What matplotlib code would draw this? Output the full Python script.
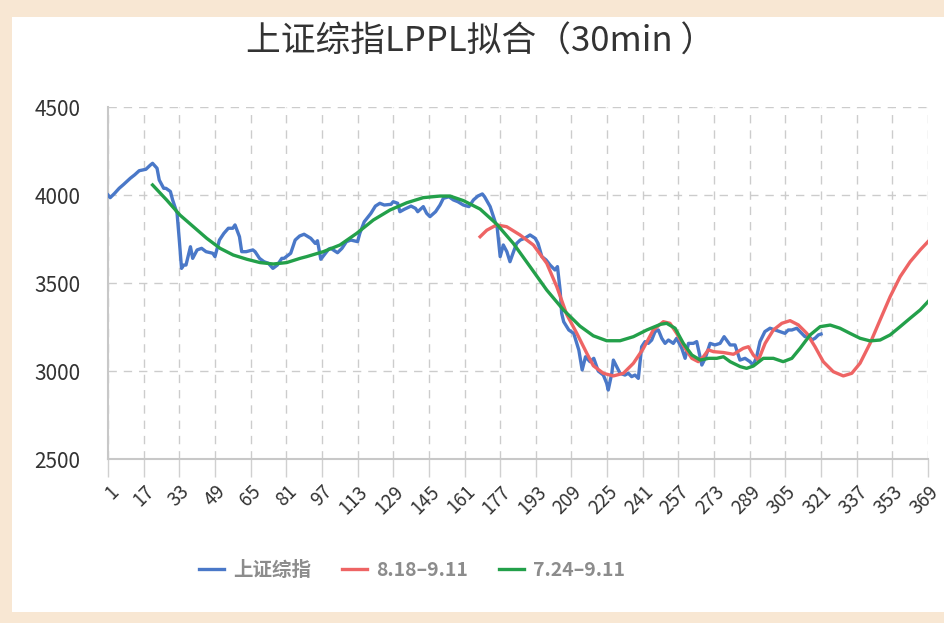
import matplotlib
matplotlib.use('Agg')
import matplotlib.pyplot as plt
from matplotlib.patches import Rectangle

plt.rcParams['font.family'] = ['Noto Sans CJK SC', 'DejaVu Sans']

# 上证综指 (читано с картинки, индекс бара -> значение)
sh_x = [1, 2, 4, 6, 8, 11, 13, 15, 18, 20, 21, 23, 24, 26, 27, 29, 30, 32, 33, 34,
        35, 36, 38, 39, 41, 43, 45, 48, 49, 51, 53, 55, 57, 58, 60, 61, 63, 66, 67, 69,
        71, 73, 75, 77, 79, 80, 83, 85, 87, 89, 92, 94, 95, 96.5, 98, 100, 101, 104, 106,
        108, 110, 113, 114, 116, 119, 121, 123, 125, 128, 129, 131, 132, 134, 137, 139,
        140, 142.5, 144, 145.5, 148, 150, 151.5, 154, 156, 158, 160.5, 163, 165, 167,
        169, 170, 172.5, 174, 175.7, 177, 178.4, 180, 181.4, 183, 184.4, 186, 188, 190.4,
        192.7, 194, 195.7, 197.6, 199.4, 201.6, 202.7, 203.9, 204.6, 205.5, 207.8, 210,
        212.3, 213.8, 215.3, 217.3, 219, 221, 223.3, 224.8, 225.5, 227.1, 227.8, 229.3,
        230.8, 233, 234.5, 236, 237.5, 239, 240.5, 242, 243.5, 245, 246.5, 248, 249.5,
        251, 252.5, 254.7, 256.2, 258.5, 260, 261.5, 263.7, 265.2, 267.5, 269, 271.2,
        273.4, 275.7, 277.5, 280.2, 282.4, 284.6, 286.9, 289.1, 290.6, 292.1, 293.6,
        295.8, 298.1, 300.4, 302.6, 304.8, 306.3, 307.9, 310.1, 312.3, 313.8, 315.3,
        316.8, 318.3, 319.8, 321]
sh_y = [4000, 3985, 4010, 4038, 4060, 4095, 4115, 4138, 4146, 4170, 4180, 4152, 4085, 4038,
        4038, 4020, 3972, 3896, 3744, 3583, 3602, 3602, 3706, 3640, 3688, 3697, 3678, 3669,
        3650, 3744, 3782, 3811, 3811, 3830, 3763, 3678, 3678, 3688, 3678, 3640, 3621, 3612,
        3583, 3602, 3640, 3640, 3669, 3744, 3767, 3777, 3754, 3725, 3740, 3635, 3659, 3692,
        3697, 3672, 3697, 3735, 3744, 3735, 3782, 3848, 3896, 3937, 3953, 3943, 3947, 3962,
        3953, 3905, 3919, 3937, 3924, 3905, 3934, 3896, 3877, 3905, 3943, 3981, 3990, 3972,
        3962, 3943, 3934, 3972, 3994, 4006, 3990, 3934, 3877, 3811, 3650, 3716, 3678, 3621,
        3678, 3725, 3744, 3754, 3773, 3754, 3725, 3650, 3631, 3602, 3574, 3593, 3460, 3328,
        3280, 3233, 3214, 3119, 3006, 3081, 3053, 3072, 3000, 2977, 2930, 2892, 2987, 3062,
        3025, 2987, 2977, 2987, 2968, 2977, 2958, 3138, 3167, 3157, 3176, 3224, 3233, 3186,
        3157, 3176, 3157, 3186, 3129, 3072, 3157, 3157, 3167, 3034, 3072, 3157, 3148, 3157,
        3195, 3148, 3148, 3062, 3072, 3053, 3034, 3081, 3167, 3224, 3243, 3233, 3224, 3214,
        3233, 3233, 3243, 3214, 3195, 3205, 3176, 3186, 3205, 3210]

# 8.18-9.11
fit1_x = [168, 171, 175.4, 179.9, 185.9, 191.9, 197.9, 202.4, 206.9, 211.4, 215.9, 218.8,
          223.3, 227.8, 232.3, 236.8, 241.3, 245.7, 250.2, 253.2, 256.2, 260, 263, 265.9,
          268.2, 270.4, 272.7, 277.2, 281.7, 286.1, 288.4, 290.6, 292.9, 295.9, 299.6,
          303.4, 307.1, 310.8, 314.6, 318.3, 322, 326.5, 331, 334.8, 338.5, 343, 347.5,
          352, 356.5, 361, 365.5, 369]
fit1_y = [3763, 3800, 3830, 3820, 3773, 3716, 3612, 3479, 3320, 3214, 3100, 3030, 2987,
          2972, 2987, 3044, 3129, 3233, 3280, 3271, 3214, 3129, 3072, 3053, 3081, 3120,
          3110, 3105, 3095, 3129, 3138, 3091, 3062, 3157, 3233, 3271, 3286, 3262, 3214,
          3138, 3053, 2996, 2972, 2987, 3044, 3157, 3290, 3422, 3536, 3621, 3688, 3735]

# 7.24-9.11
fit2_x = [21, 27.3, 33.3, 39.3, 45.3, 51.3, 57.2, 63.3, 69.2, 75.2, 81.2, 87.2, 90.2, 97.6,
          105.1, 112.6, 120.1, 127.6, 135.1, 142.5, 150, 154.5, 160.5, 168, 175.4, 182.9,
          190.4, 197.9, 205.4, 212.8, 218.8, 224.8, 230.8, 236.8, 242.8, 248.9, 251.7,
          255.5, 259.2, 263, 266.8, 270.5, 274.2, 277.2, 280.2, 284.7, 287.6, 290.6, 295.1,
          299.6, 304, 307.9, 311.6, 316.1, 320.6, 325.1, 329.5, 334, 338.5, 343, 347.5,
          352, 356.5, 361, 365.5, 369]
fit2_y = [4057, 3972, 3886, 3820, 3754, 3697, 3659, 3635, 3616, 3608, 3616, 3640, 3650, 3678,
          3716, 3782, 3858, 3915, 3956, 3985, 3994, 3994, 3968, 3920, 3835, 3725, 3593, 3460,
          3347, 3255, 3200, 3172, 3172, 3195, 3233, 3265, 3271, 3243, 3157, 3091, 3062, 3072,
          3072, 3081, 3053, 3025, 3015, 3028, 3072, 3072, 3053, 3072, 3129, 3205, 3252, 3261,
          3243, 3214, 3186, 3171, 3176, 3205, 3252, 3300, 3347, 3394]

x_ticks = list(range(1, 370, 16))
y_ticks = [2500, 3000, 3500, 4000, 4500]

fig = plt.figure(figsize=(9.45, 6.23), dpi=100)
fig.patch.set_facecolor('#F8E7D3')
# белая подложка под графиком
fig.patches.append(Rectangle((12 / 945, 1 - 612 / 623), 1, (612 - 17) / 623,
                             transform=fig.transFigure, facecolor='white',
                             edgecolor='none', zorder=-10))

ax = fig.add_axes([108 / 945, 1 - 459 / 623, (928 - 108) / 945, (459 - 107) / 623])
ax.set_facecolor('white')

ax.plot(sh_x, sh_y, color='#4A78C8', lw=2.4, label='上证综指', zorder=3)
ax.plot(fit1_x, fit1_y, color='#EE6464', lw=2.4, label='8.18–9.11', zorder=4)
ax.plot(fit2_x, fit2_y, color='#23A04A', lw=2.4, label='7.24–9.11', zorder=5)

ax.set_xlim(1, 369)
ax.set_ylim(2500, 4500)
ax.set_xticks(x_ticks)
ax.set_xticklabels([str(t) for t in x_ticks], rotation=45, ha='right', va='top',
                   rotation_mode='anchor', fontsize=13.5, color='#333333')
ax.set_yticks(y_ticks)
ax.set_yticklabels([str(t) for t in y_ticks], fontsize=15, color='#333333')
ax.tick_params(axis='x', length=13, width=1, color='#D0D0D0', pad=3)
ax.tick_params(axis='y', length=0, pad=20)

ax.grid(True, linestyle=(0, (6, 5)), color='#CCCCCC', linewidth=1)
for s in ['top', 'right']:
    ax.spines[s].set_visible(False)
for s in ['left', 'bottom']:
    ax.spines[s].set_color('#C8C8C8')
    ax.spines[s].set_linewidth(1.5)

fig.text(481 / 945, 1 - 42 / 623, '上证综指LPPL拟合（30min ）', ha='center', va='center',
         fontsize=25, color='#333333')

leg = fig.legend(loc='center', bbox_to_anchor=(0.436, 1 - 570 / 623), ncol=3, frameon=False,
                 fontsize=14, handlelength=1.3, handletextpad=0.45, columnspacing=1.6)
for t in leg.get_texts():
    t.set_color('#8C8C8C')
    t.set_fontweight('bold')

plt.savefig('out.png', dpi=100)
